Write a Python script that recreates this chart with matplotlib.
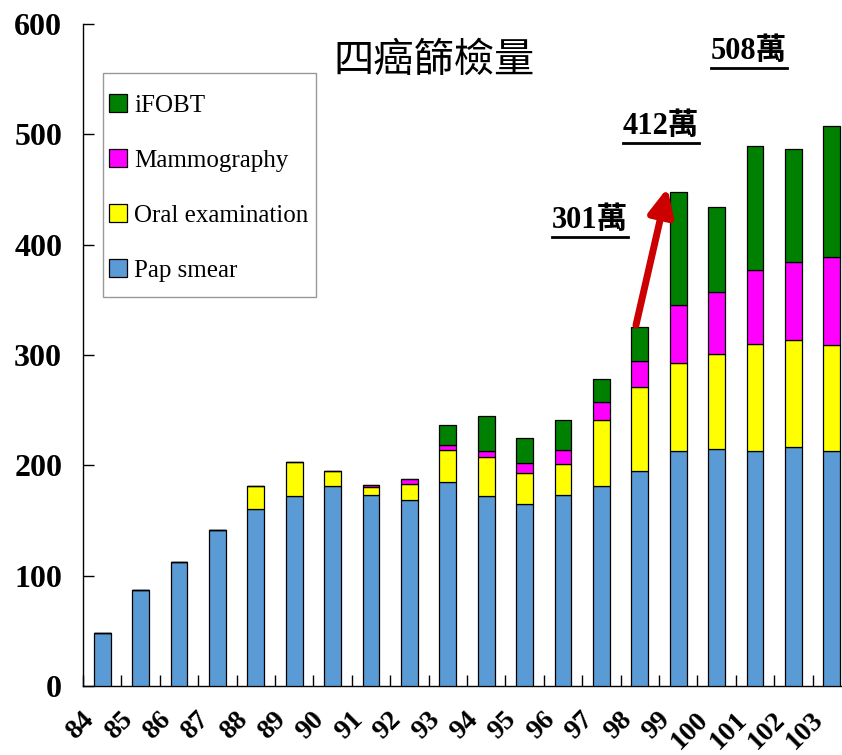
import matplotlib
matplotlib.use("Agg")
import matplotlib.pyplot as plt
from matplotlib.lines import Line2D
from matplotlib.patches import Rectangle
from matplotlib.transforms import ScaledTranslation
import numpy as np

years = ["84", "85", "86", "87", "88", "89", "90", "91", "92", "93",
         "94", "95", "96", "97", "98", "99", "100", "101", "102", "103"]
pap = [48, 87, 112, 141.5, 160, 172, 181, 173, 169, 185,
       172, 165, 173, 181, 195, 213, 215, 213, 217, 213]
oral = [0, 0, 0, 0, 21, 31, 14, 7.5, 14, 29,
        36, 28, 28, 60, 76, 80, 86, 97, 97, 96]
mammo = [0, 0, 0, 0, 0, 0, 0, 1.8, 4.2, 4.6,
         5.2, 9, 13.3, 16, 24, 52, 56, 67, 70, 80]
ifobt = [0, 0, 0, 0, 0, 0, 0, 0, 0, 18.4,
         31.4, 22.7, 27.2, 21.7, 30.2, 103, 77.4, 112, 102.7, 118.8]
series_names = ["Pap smear", "Oral examination", "Mammography", "iFOBT"]
colors = ["#5B9BD5", "#FFFF00", "#FF00FF", "#008000"]
yticks = [0, 100, 200, 300, 400, 500, 600]
title = "四癌篩檢量"
notes = [("301萬", 12.7, 415), ("412萬", 14.55, 500), ("508萬", 16.84, 568)]

W, H = 842, 755
fig = plt.figure(figsize=(W / 100, H / 100), dpi=100)
ax = fig.add_axes([83 / W, (H - 686) / H, 768 / W, 662 / H])

x = np.arange(len(years))
bottom = np.zeros(len(years))
handles = []
for vals, name, c in zip([pap, oral, mammo, ifobt], series_names, colors):
    v = np.array(vals, dtype=float)
    b = ax.bar(x, v, 0.435, bottom=bottom, color=c, edgecolor="black",
               linewidth=0.9, label=name, zorder=3)
    handles.append(b)
    bottom += v

ax.set_xlim(-0.5, len(years) - 0.5)
ax.set_ylim(0, 600)
ax.set_yticks(yticks)
ax.set_yticklabels([str(t) for t in yticks], fontfamily="Liberation Serif",
                   fontweight="bold", fontsize=23)
ax.tick_params(axis="y", direction="in", length=8, width=1, pad=15)

ax.set_xticks(x - 0.5, minor=True)
ax.set_xticks(x)
ax.tick_params(axis="x", which="minor", direction="in", length=8, width=1)
ax.tick_params(axis="x", which="major", length=0, pad=0)
ax.set_xticklabels(years, rotation=45, ha="right", va="center",
                   rotation_mode="anchor", fontfamily="Liberation Serif",
                   fontweight="bold", fontsize=20)
off = ScaledTranslation(-12 / 100, -30 / 100, fig.dpi_scale_trans)
for lab in ax.get_xticklabels():
    lab.set_transform(lab.get_transform() + off)

for s in ["top", "right"]:
    ax.spines[s].set_visible(False)
ax.spines["left"].set_linewidth(1)
ax.spines["bottom"].set_linewidth(1)

frame = Rectangle((103 / W, 1 - 297 / H), 213 / W, 224 / H, transform=fig.transFigure,
                  facecolor="white", edgecolor="#999999", lw=1, zorder=4,
                  clip_on=False)
ax.add_patch(frame)
leg = ax.legend(handles[::-1], series_names[::-1], loc="upper left",
                bbox_to_anchor=(104 / W, 1 - 89 / H), bbox_transform=fig.transFigure,
                prop={"family": "Liberation Serif", "size": 18},
                frameon=False, labelspacing=1.3, handlelength=0.7,
                handleheight=0.7, handletextpad=0.3, borderpad=0.2,
                borderaxespad=0)
leg.set_zorder(5)

fig.text(434 / W, 1 - 60 / H, title, family=["Noto Sans CJK TC", "DejaVu Sans"],
         fontsize=29, ha="center", va="center")

note_texts = []
for txt, nx, ny in notes:
    t = ax.text(nx, ny, txt, family=["Liberation Serif", "Noto Sans CJK TC"],
                fontweight="bold", fontsize=22, ha="center", va="baseline")
    note_texts.append(t)

ax.annotate("", xy=(14.72, 451.5), xytext=(13.9, 327),
            arrowprops=dict(arrowstyle="-|>,head_length=1.6,head_width=0.75",
                            color="#CC0000", lw=5, shrinkA=0, shrinkB=0))

fig.canvas.draw()
r = fig.canvas.get_renderer()
inv = fig.transFigure.inverted()
for t in note_texts:
    bb = t.get_window_extent(r)
    (x0, y0), (x1, y1) = inv.transform([(bb.x0, bb.y0 - 2), (bb.x1, bb.y0 - 2)])
    fig.add_artist(Line2D([x0, x1], [y0, y1], color="black", lw=2))

fig.savefig("out.png", dpi=100)
